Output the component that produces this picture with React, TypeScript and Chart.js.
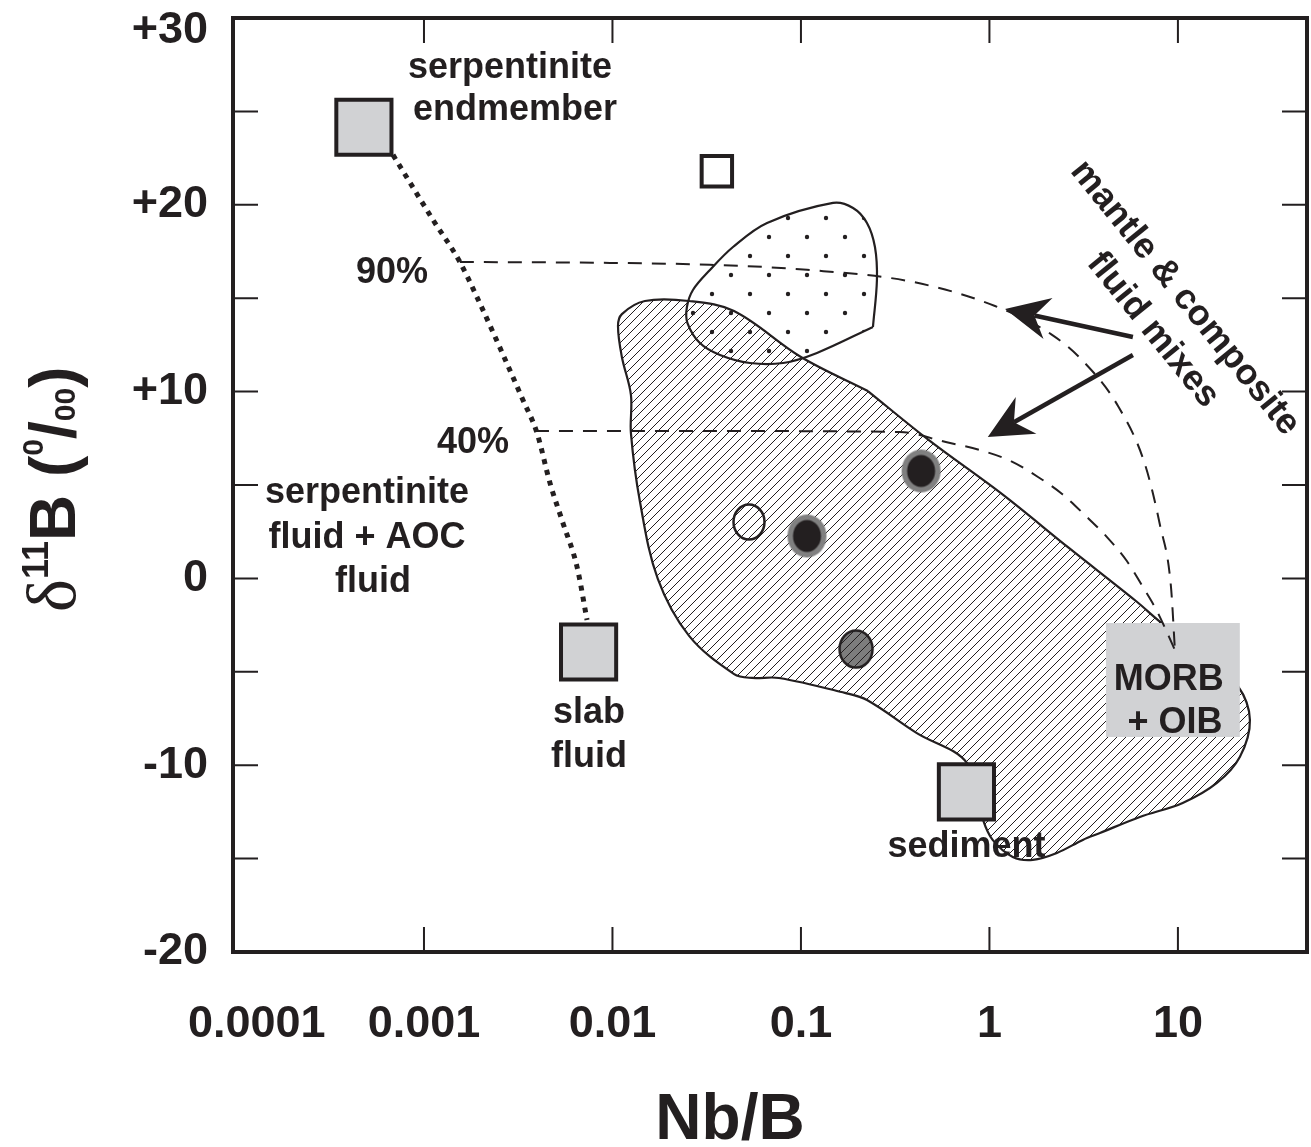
import React, { useEffect, useRef } from 'react';
import { Chart, registerables } from 'chart.js';

Chart.register(...registerables);

const INK = '#231f20';
const GRAY = '#d1d2d4';
const SANS = '"Liberation Sans", Arial, Helvetica, sans-serif';

// ---- axes ----
const X_MIN = 0.000097;
const X_MAX = 48.4;
const Y_MIN = -20;
const Y_MAX = 30;
const xTickValues = [0.0001, 0.001, 0.01, 0.1, 1, 10];
const xTickLabels = ['0.0001', '0.001', '0.01', '0.1', '1', '10'];
const yTickValues = [-20, -15, -10, -5, 0, 5, 10, 15, 20, 25, 30];
const yLabelValues = [30, 20, 10, 0, -10, -20];
const yTickLabels = ['+30', '+20', '+10', '0', '-10', '-20'];

// ---- fields (Nb/B, delta11B) ----
const hatchedField = [
  { x: 0.2265, y: 10.03 }, { x: 0.483, y: 7.36 }, { x: 1.164, y: 4.52 }, { x: 2.64, y: 1.63 },
  { x: 5.99, y: -1.21 }, { x: 8.32, y: -2.44 }, { x: 13.1, y: -3.83 }, { x: 20.8, y: -5.76 },
  { x: 24.1, y: -7.58 }, { x: 21.3, y: -9.56 }, { x: 16.1, y: -10.95 }, { x: 10.6, y: -12.02 },
  { x: 6.28, y: -12.77 }, { x: 3.86, y: -13.63 }, { x: 3.13, y: -14.0 }, { x: 2.28, y: -14.7 },
  { x: 1.7, y: -15.07 }, { x: 1.33, y: -14.91 }, { x: 1.04, y: -14.0 }, { x: 0.925, y: -12.93 },
  { x: 0.76, y: -9.88 }, { x: 0.412, y: -8.28 }, { x: 0.224, y: -6.51 }, { x: 0.171, y: -6.13 },
  { x: 0.0764, y: -5.33 }, { x: 0.055, y: -5.33 }, { x: 0.0442, y: -5.12 }, { x: 0.0255, y: -3.08 },
  { x: 0.0174, y: -0.03 }, { x: 0.014, y: 4.09 }, { x: 0.01253, y: 7.78 }, { x: 0.01253, y: 9.82 },
  { x: 0.01122, y: 11.85 }, { x: 0.0107, y: 13.51 }, { x: 0.01122, y: 14.15 }, { x: 0.01486, y: 14.85 },
  { x: 0.02547, y: 14.85 }, { x: 0.04416, y: 14.31 }, { x: 0.1, y: 11.85 }, { x: 0.2265, y: 10.03 },
];

const stippledField = [
  { x: 0.241, y: 13.46 }, { x: 0.253, y: 15.97 }, { x: 0.247, y: 17.74 }, { x: 0.224, y: 19.03 },
  { x: 0.189, y: 19.83 }, { x: 0.148, y: 20.1 }, { x: 0.0661, y: 19.03 }, { x: 0.0436, y: 17.74 },
  { x: 0.0329, y: 16.51 }, { x: 0.02673, y: 15.44 }, { x: 0.02483, y: 14.53 }, { x: 0.025, y: 13.67 },
  { x: 0.0291, y: 12.6 }, { x: 0.0372, y: 11.96 }, { x: 0.0536, y: 11.53 }, { x: 0.0804, y: 11.53 },
  { x: 0.1216, y: 12.07 }, { x: 0.241, y: 13.46 },
];

const morbBox = [
  { x: 4.15, y: -2.39 }, { x: 21.3, y: -2.39 }, { x: 21.3, y: -8.49 }, { x: 4.15, y: -8.49 }, { x: 4.15, y: -2.39 },
];

// ---- mixing curves ----
const mix90 = [
  { x: 0.00155, y: 16.94 }, { x: 0.0097, y: 16.89 }, { x: 0.0329, y: 16.79 }, { x: 0.1076, y: 16.52 },
  { x: 0.393, y: 15.87 }, { x: 1.07, y: 14.58 }, { x: 2.12, y: 13.08 }, { x: 3.1, y: 11.69 },
  { x: 4.81, y: 9.23 }, { x: 6.68, y: 6.12 }, { x: 8.03, y: 2.86 }, { x: 9.18, y: -0.41 }, { x: 9.64, y: -3.83 },
];
const mix40 = [
  { x: 0.00388, y: 7.89 }, { x: 0.0291, y: 7.89 }, { x: 0.335, y: 7.84 }, { x: 0.587, y: 7.3 },
  { x: 0.891, y: 6.87 }, { x: 1.3, y: 6.28 }, { x: 1.81, y: 5.43 }, { x: 2.43, y: 4.52 },
  { x: 3.21, y: 3.39 }, { x: 4.25, y: 2.16 }, { x: 5.36, y: 0.93 }, { x: 6.52, y: -0.46 },
  { x: 7.74, y: -1.75 }, { x: 9.64, y: -3.83 },
];
const serpentiniteMix = [
  { x: 0.000685, y: 22.67 }, { x: 0.001117, y: 19.19 }, { x: 0.00155, y: 16.94 }, { x: 0.00191, y: 15.06 },
  { x: 0.00335, y: 9.55 }, { x: 0.00398, y: 7.78 }, { x: 0.00466, y: 5.11 }, { x: 0.00546, y: 2.97 },
  { x: 0.00649, y: 0.61 }, { x: 0.00733, y: -2.23 },
];

// ---- samples / endmembers ----
const endmembers = [{ x: 0.00048, y: 24.15 }, { x: 0.00747, y: -3.94 }, { x: 0.755, y: -11.43 }];
const openSquares = [{ x: 0.0358, y: 21.8 }];
const openCircles = [{ x: 0.053, y: 3.02 }];
const ringedDots = [{ x: 0.1076, y: 2.27 }, { x: 0.434, y: 5.75 }];
const grayDots = [{ x: 0.196, y: -3.78 }];

// ---- annotations ----
const noteTexts = ['serpentinite', 'endmember', '90%', '40%', 'serpentinite', 'fluid + AOC', 'fluid', 'slab', 'fluid', 'sediment', 'MORB', '+ OIB'];
const noteX = [0.00286, 0.00304, 0.000676, 0.00182, 0.000499, 0.000499, 0.000537, 0.0075, 0.0075, 0.755, 8.95, 9.64];
const noteY = [26.79, 24.54, 15.81, 6.71, 4.04, 1.63, -0.73, -7.74, -10.1, -14.91, -5.97, -8.28];
const slantTexts = ['mantle & composite', 'fluid mixes'];
const slantX = [10.9, 7.36];
const slantY = [15.01, 13.3];
const slantAngle = 51;
const arrowTails = [{ x: 5.77, y: 12.92 }, { x: 5.77, y: 11.96 }];
const arrowTips = [{ x: 1.21, y: 14.42 }, { x: 0.98, y: 7.57 }];

function makeHatch() {
  const c = document.createElement('canvas');
  c.width = 9;
  c.height = 9;
  const g = c.getContext('2d')!;
  g.strokeStyle = INK;
  g.lineWidth = 1;
  g.beginPath();
  g.moveTo(-1, 10); g.lineTo(10, -1);
  g.moveTo(-1, 1); g.lineTo(1, -1);
  g.moveTo(8, 10); g.lineTo(10, 8);
  g.stroke();
  return g.createPattern(c, 'repeat');
}

function makeStipple() {
  const c = document.createElement('canvas');
  c.width = 38;
  c.height = 38;
  const g = c.getContext('2d')!;
  g.fillStyle = INK;
  for (const [cx, cy] of [[9, 9], [28, 28]]) {
    g.beginPath();
    g.arc(cx, cy, 2.2, 0, Math.PI * 2);
    g.fill();
  }
  return g.createPattern(c, 'repeat');
}

function ellipseMarker(rx: number, ry: number, fill: string | null, stroke: string | null, lw: number, inner?: { rx: number; ry: number; fill: string }) {
  const c = document.createElement('canvas');
  c.width = Math.ceil(rx * 2 + lw + 4);
  c.height = Math.ceil(ry * 2 + lw + 4);
  const g = c.getContext('2d')!;
  const cx = c.width / 2;
  const cy = c.height / 2;
  g.beginPath();
  g.ellipse(cx, cy, rx, ry, 0, 0, Math.PI * 2);
  if (fill) { g.fillStyle = fill; g.fill(); }
  if (stroke) { g.strokeStyle = stroke; g.lineWidth = lw; g.stroke(); }
  if (inner) {
    g.beginPath();
    g.ellipse(cx, cy, inner.rx, inner.ry, 0, 0, Math.PI * 2);
    g.fillStyle = inner.fill;
    g.fill();
  }
  return c;
}

function drawArrow(ctx: CanvasRenderingContext2D, x0: number, y0: number, x1: number, y1: number) {
  const dx = x1 - x0;
  const dy = y1 - y0;
  const len = Math.hypot(dx, dy);
  const ux = dx / len;
  const uy = dy / len;
  const nx = -uy;
  const ny = ux;
  const L = 44;
  const W = 21;
  const notch = 30;
  ctx.lineWidth = 4.5;
  ctx.beginPath();
  ctx.moveTo(x0, y0);
  ctx.lineTo(x1 - ux * notch, y1 - uy * notch);
  ctx.stroke();
  ctx.beginPath();
  ctx.moveTo(x1, y1);
  ctx.lineTo(x1 - ux * L + nx * W, y1 - uy * L + ny * W);
  ctx.lineTo(x1 - ux * notch, y1 - uy * notch);
  ctx.lineTo(x1 - ux * L - nx * W, y1 - uy * L - ny * W);
  ctx.closePath();
  ctx.fill();
}

const overlayPlugin = {
  id: 'overlay',
  afterDatasetsDraw(chart: any) {
    const { ctx, chartArea: a, scales } = chart;
    const xs = scales.x;
    const ys = scales.y;
    ctx.save();
    ctx.strokeStyle = INK;
    ctx.fillStyle = INK;

    // inward ticks on all four sides
    ctx.lineWidth = 2;
    ctx.beginPath();
    for (const v of xTickValues) {
      const px = xs.getPixelForValue(v);
      if (px <= a.left + 3 || px >= a.right - 3) continue;
      ctx.moveTo(px, a.bottom); ctx.lineTo(px, a.bottom - 25);
      ctx.moveTo(px, a.top); ctx.lineTo(px, a.top + 25);
    }
    for (const v of yTickValues) {
      const py = ys.getPixelForValue(v);
      if (py <= a.top + 3 || py >= a.bottom - 3) continue;
      ctx.moveTo(a.left, py); ctx.lineTo(a.left + 25, py);
      ctx.moveTo(a.right, py); ctx.lineTo(a.right - 25, py);
    }
    ctx.stroke();

    // frame
    ctx.lineWidth = 4;
    ctx.strokeRect(a.left, a.top, a.right - a.left, a.bottom - a.top);

    // tick labels
    ctx.font = `bold 45px ${SANS}`;
    ctx.textAlign = 'center';
    ctx.textBaseline = 'alphabetic';
    xTickValues.forEach((v, i) => {
      const w = ctx.measureText(xTickLabels[i]).width;
      const px = Math.max(xs.getPixelForValue(v), a.left + w / 2 - 45);
      ctx.fillText(xTickLabels[i], px, a.bottom + 85);
    });
    ctx.textAlign = 'right';
    ctx.textBaseline = 'middle';
    yLabelValues.forEach((v, i) => {
      const py = Math.max(ys.getPixelForValue(v), a.top + 13);
      ctx.fillText(yTickLabels[i], a.left - 25, py);
    });

    // axis titles
    ctx.font = `bold 64px ${SANS}`;
    ctx.textAlign = 'center';
    ctx.textBaseline = 'alphabetic';
    ctx.fillText('Nb/B', (a.left + a.right) / 2 - 40, a.bottom + 187);

    ctx.save();
    ctx.translate(a.left - 158, (a.top + a.bottom) / 2 + 127);
    ctx.rotate(-Math.PI / 2);
    ctx.textAlign = 'left';
    const parts = [
      { t: 'δ', f: `normal 70px "Liberation Serif", "DejaVu Serif", serif`, dy: 0 },
      { t: '11', f: `bold 36px ${SANS}`, dy: -27 },
      { t: 'B', f: `bold 64px ${SANS}`, dy: 0 },
      { t: ' (', f: `bold 64px ${SANS}`, dy: 0 },
      { t: '0', f: `bold 30px ${SANS}`, dy: -32 },
      { t: '/', f: `bold 64px ${SANS}`, dy: 0 },
      { t: '00', f: `bold 30px ${SANS}`, dy: 0 },
      { t: ')', f: `bold 64px ${SANS}`, dy: 0 },
    ];
    let cx = 0;
    for (const p of parts) {
      ctx.font = p.f;
      ctx.fillText(p.t, cx, p.dy);
      cx += ctx.measureText(p.t).width;
    }
    ctx.restore();

    // arrows
    arrowTails.forEach((t, i) => {
      drawArrow(ctx, xs.getPixelForValue(t.x), ys.getPixelForValue(t.y), xs.getPixelForValue(arrowTips[i].x), ys.getPixelForValue(arrowTips[i].y));
    });

    // annotations
    ctx.font = `bold 36px ${SANS}`;
    ctx.textAlign = 'center';
    ctx.textBaseline = 'alphabetic';
    noteTexts.forEach((t, i) => {
      ctx.fillText(t, xs.getPixelForValue(noteX[i]), ys.getPixelForValue(noteY[i]));
    });
    ctx.textBaseline = 'middle';
    slantTexts.forEach((t, i) => {
      ctx.save();
      ctx.translate(xs.getPixelForValue(slantX[i]), ys.getPixelForValue(slantY[i]));
      ctx.rotate((slantAngle * Math.PI) / 180);
      ctx.fillText(t, 0, 0);
      ctx.restore();
    });
    ctx.restore();
  },
};

export default function App() {
  const ref = useRef<HTMLCanvasElement | null>(null);

  useEffect(() => {
    const canvas = ref.current;
    if (!canvas) return;
    const hatch = makeHatch();
    const stipple = makeStipple();
    const openCircleImg = ellipseMarker(15.5, 17.5, null, INK, 2.5);
    const ringImg = ellipseMarker(19.5, 21.5, '#808080', null, 0, { rx: 14, ry: 16, fill: INK });
    const grayImg = ellipseMarker(16.5, 18.5, '#7d7d7d', INK, 2.5);

    const pointBase = { showLine: false, pointRadius: 10, pointHoverRadius: 10 };
    const polyBase = { pointRadius: 0, pointHoverRadius: 0, fill: 'shape' };

    const chart = new Chart(canvas, {
      type: 'line',
      data: {
        datasets: [
          { label: 'gray dot', data: grayDots, ...pointBase, pointStyle: grayImg, order: 100 },
          { label: 'hatched field', data: hatchedField, ...polyBase, backgroundColor: hatch, borderColor: INK, borderWidth: 2.2, tension: 0.35, order: 90 },
          { label: 'stippled field', data: stippledField, ...polyBase, backgroundColor: stipple, borderColor: INK, borderWidth: 2.2, tension: 0.35, order: 80 },
          { label: 'MORB + OIB', data: morbBox, ...polyBase, backgroundColor: GRAY, borderColor: 'rgba(0,0,0,0)', borderWidth: 0.01, tension: 0, order: 70 },
          { label: '90%', data: mix90, pointRadius: 0, fill: false, borderColor: INK, borderWidth: 2, borderDash: [14, 10], cubicInterpolationMode: 'monotone', order: 60 },
          { label: '40%', data: mix40, pointRadius: 0, fill: false, borderColor: INK, borderWidth: 2, borderDash: [14, 10], cubicInterpolationMode: 'monotone', order: 59 },
          { label: 'serpentinite mixing', data: serpentiniteMix, pointRadius: 0, fill: false, borderColor: INK, borderWidth: 5, borderDash: [5, 6], cubicInterpolationMode: 'monotone', order: 50 },
          { label: 'open circle', data: openCircles, ...pointBase, pointStyle: openCircleImg, order: 40 },
          { label: 'ringed dots', data: ringedDots, ...pointBase, pointStyle: ringImg, order: 39 },
          { label: 'endmembers', data: endmembers, showLine: false, pointStyle: 'rect', pointRadius: 39, pointHoverRadius: 39, pointBackgroundColor: GRAY, pointBorderColor: INK, pointBorderWidth: 4, order: 30 },
          { label: 'open square', data: openSquares, showLine: false, pointStyle: 'rect', pointRadius: 21.5, pointHoverRadius: 21.5, pointBackgroundColor: '#ffffff', pointBorderColor: INK, pointBorderWidth: 4, order: 29 },
        ] as any,
      },
      options: {
        animation: false,
        responsive: false,
        devicePixelRatio: 1,
        events: [],
        layout: { autoPadding: false, padding: { left: 233, right: 4, top: 18, bottom: 195 } },
        plugins: { legend: { display: false }, tooltip: { enabled: false } },
        scales: {
          x: {
            type: 'logarithmic',
            min: X_MIN,
            max: X_MAX,
            display: false,
            afterBuildTicks: (s: any) => { s.ticks = xTickValues.map((v) => ({ value: v })); },
          },
          y: { type: 'linear', min: Y_MIN, max: Y_MAX, display: false },
        },
      } as any,
      plugins: [overlayPlugin],
    });
    return () => chart.destroy();
  }, []);

  return (
    <div style={{ position: 'absolute', left: 0, top: 0, width: 1311, height: 1147, background: '#ffffff' }}>
      <canvas ref={ref} width={1311} height={1147} style={{ display: 'block' }} />
    </div>
  );
}
